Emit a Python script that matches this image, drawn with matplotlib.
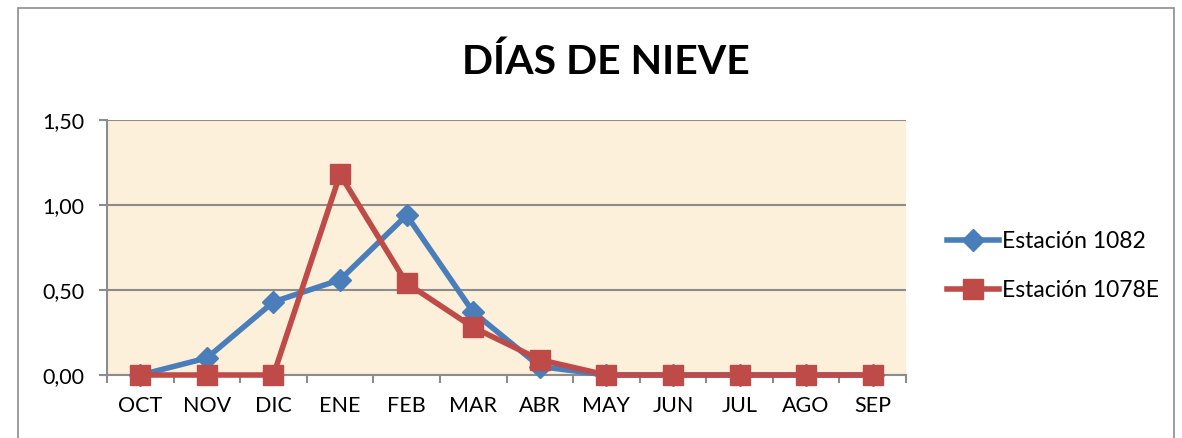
import matplotlib
matplotlib.use("Agg")
import matplotlib.pyplot as plt
from matplotlib.patches import Rectangle
from matplotlib.lines import Line2D
import numpy as np

plt.rcParams['font.family'] = ['Lato', 'DejaVu Sans']

months = ["OCT", "NOV", "DIC", "ENE", "FEB", "MAR", "ABR", "MAY", "JUN", "JUL", "AGO", "SEP"]
est_1082 = [0.00, 0.10, 0.43, 0.56, 0.94, 0.37, 0.05, 0.00, 0.00, 0.00, 0.00, 0.00]
est_1078E = [0.00, 0.00, 0.00, 1.18, 0.54, 0.28, 0.09, 0.00, 0.00, 0.00, 0.00, 0.00]
yticks = [0.0, 0.5, 1.0, 1.5]
ytick_labels = ["0,00", "0,50", "1,00", "1,50"]

W, H = 1182, 438
fig = plt.figure(figsize=(W/100, H/100), dpi=100)
fig.patch.set_facecolor("white")

# outer chart border
fig.patches.append(Rectangle((18/W, -0.05), (1174-18)/W, (438-8)/H + 0.05,
                             transform=fig.transFigure, fill=False,
                             edgecolor="#8c8c8c", linewidth=1.2))

ax = fig.add_axes([107/W, 1-375/H, (906-107)/W, (375-120)/H])
ax.set_facecolor("#FCF0DA")
x = np.arange(len(months))

blue = "#4A7EBB"
red = "#BE4B48"
ax.plot(x, est_1082, color=blue, linewidth=4, marker="D", markersize=11,
        markeredgecolor=blue, markerfacecolor=blue, label="Estación 1082",
        zorder=3, clip_on=False)
ax.plot(x, est_1078E, color=red, linewidth=4, marker="s", markersize=14,
        markeredgecolor=red, markerfacecolor=red, label="Estación 1078E",
        zorder=4, clip_on=False)

ax.set_xlim(-0.5, len(months) - 0.5)
ax.set_ylim(0, 1.5)
ax.set_yticks(yticks)
ax.set_yticklabels(ytick_labels, fontsize=15.5)
ax.set_xticks(x)
ax.set_xticklabels(months, fontsize=15.5)
ax.tick_params(axis="x", which="major", length=0, pad=15)
ax.set_xticks(np.arange(-0.5, len(months), 1.0), minor=True)
ax.tick_params(axis="x", which="minor", length=6, color="#8c8c8c", width=1.5, direction="out")
ax.tick_params(axis="y", length=6, color="#8c8c8c", width=1.5, direction="out", pad=10)
ax.yaxis.grid(True, color="#8c8c8c", linewidth=1.5)
ax.set_axisbelow(True)
for s in ["top", "right"]:
    ax.spines[s].set_visible(False)
for s in ["left", "bottom"]:
    ax.spines[s].set_color("#8c8c8c")
    ax.spines[s].set_linewidth(1.5)
    ax.spines[s].set_zorder(2)

fig.text(606/W, 1-62/H, "DÍAS DE NIEVE", fontsize=29.5, fontweight="bold",
         ha="center", va="center", color="black")

handles = [
    Line2D([0], [0], color=blue, linewidth=4, marker="D", markersize=11),
    Line2D([0], [0], color=red, linewidth=4, marker="s", markersize=14),
]
fig.legend(handles, ["Estación 1082", "Estación 1078E"], loc="center left",
           bbox_to_anchor=(926/W, 1-266/H), frameon=False, fontsize=16.5,
           handlelength=2.3, handletextpad=0.1, labelspacing=1.2)

fig.savefig("out.png", dpi=100)
